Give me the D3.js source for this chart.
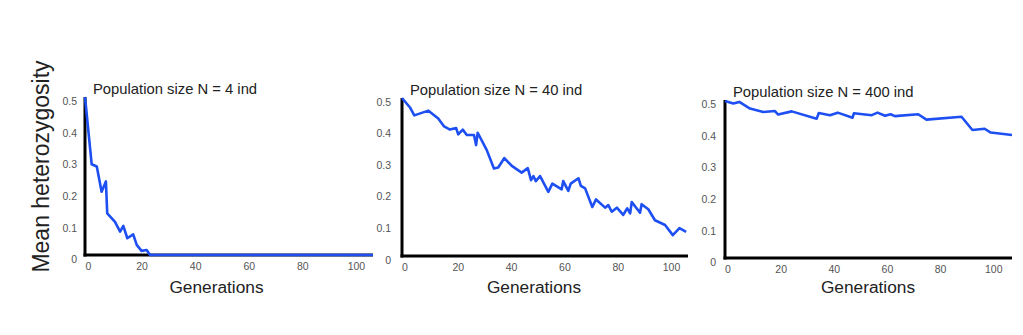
<!DOCTYPE html>
<html>
<head>
<meta charset="utf-8">
<script src="https://cdn.jsdelivr.net/npm/d3@7"></script>
<style>
  html, body { margin: 0; padding: 0; background: #fff; }
  svg { display: block; font-family: "Liberation Sans", Arial, Helvetica, sans-serif; }
</style>
</head>
<body>
<svg id="chart" width="1023" height="335"></svg>
<script>
// ---- Data ----
const xTicks = [0, 20, 40, 60, 80, 100];
const yTicks = [0, 0.1, 0.2, 0.3, 0.4, 0.5];
const yTickLabels = ["0", "0.1", "0.2", "0.3", "0.4", "0.5"];
const titles = ["Population size N = 4 ind", "Population size N = 40 ind", "Population size N = 400 ind"];
const xLabel = "Generations";
const yLabel = "Mean heterozygosity";

const gen4 = [0, 2.5, 4.4, 6.2, 7.8, 8.3, 11.2, 13.1, 14.3, 15.8, 18.0, 19.3, 21.1, 23.0, 24.3, 107.5];
const het4 = [0.5, 0.287, 0.28, 0.2, 0.233, 0.132, 0.105, 0.074, 0.092, 0.053, 0.065, 0.032, 0.013, 0.016, 0, 0];

const gen40 = [0, 3, 4.6, 9.9, 13.6, 15.8, 18, 20.3, 21.1, 22.8, 24.3, 27, 27.8, 28.4, 31.8, 34.5, 36.1, 38.4,
  41.2, 44.9, 47.2, 48.4, 49.3, 50.2, 51.8, 54.9, 56.4, 59.9, 60.5, 62.4, 63.3, 66.2, 67.1, 68.7, 71.4, 72.8,
  76.2, 77.4, 78.7, 80.6, 83.0, 84.5, 85.6, 86.2, 89.3, 89.9, 92.4, 94.9, 98.7, 101.6, 104.1, 106.6];
const het40 = [0.5, 0.47, 0.445, 0.46, 0.435, 0.41, 0.40, 0.405, 0.385, 0.40, 0.383, 0.383, 0.351, 0.39, 0.335, 0.277, 0.28, 0.31,
  0.285, 0.264, 0.278, 0.24, 0.253, 0.237, 0.253, 0.203, 0.229, 0.211, 0.237, 0.206, 0.229, 0.246, 0.222, 0.214, 0.155, 0.179,
  0.153, 0.161, 0.140, 0.153, 0.130, 0.151, 0.135, 0.171, 0.137, 0.164, 0.148, 0.113, 0.098, 0.066, 0.088, 0.076];

const gen400 = [0, 3.1, 5.4, 9.4, 14.4, 18.8, 20.0, 25.1, 34.5, 35.3, 39.5, 42.4, 48, 48.5, 55.2, 57.4, 60.2, 62.3,
  63.9, 72.7, 75.8, 89, 93.1, 97.7, 100, 108];
const het400 = [0.497, 0.489, 0.494, 0.473, 0.462, 0.465, 0.454, 0.464, 0.441, 0.459, 0.452, 0.46, 0.444, 0.458, 0.452, 0.46, 0.45, 0.455,
  0.449, 0.455, 0.438, 0.447, 0.405, 0.409, 0.397, 0.389];

// ---- Layout ----
const panels = [
  { gens: gen4, hets: het4, title: titles[0], left: 85, right: 373, top: 97, bottom: 255, xmax: 107.5,
    titleX: 93, titleY: 93.5, xlabX: 216.5, yTickDx: 8, yTickDy: 4.5, xTickDx: 3.5, xTickY: 270 },
  { gens: gen40, hets: het40, title: titles[1], left: 402, right: 688, top: 98, bottom: 256, xmax: 107.3,
    titleX: 410, titleY: 95, xlabX: 534, yTickDx: 11, yTickDy: 4, xTickDx: 3, xTickY: 270.5 },
  { gens: gen400, hets: het400, title: titles[2], left: 725, right: 1012, top: 100, bottom: 258, xmax: 108,
    titleX: 733, titleY: 96.5, xlabX: 868, yTickDx: 9, yTickDy: 4.5, xTickDx: 3, xTickY: 273 }
];

const svg = d3.select("#chart");
svg.append("rect").attr("width", 1023).attr("height", 335).attr("fill", "#fff");

panels.forEach(p => {
  const x = d3.scaleLinear().domain([0, p.xmax]).range([p.left, p.right]);
  const y = d3.scaleLinear().domain([0, 0.5]).range([p.bottom, p.top]);
  const g = svg.append("g");

  // y tick labels
  g.selectAll("text.yt").data(yTicks).enter().append("text")
    .attr("class", "yt")
    .attr("x", p.left - p.yTickDx)
    .attr("y", (d) => y(d) + p.yTickDy)
    .attr("dy", "0.35em")
    .attr("text-anchor", "end")
    .attr("font-size", 10.5)
    .attr("fill", "#555")
    .text((d, i) => yTickLabels[i]);

  // x tick labels
  g.selectAll("text.xt").data(xTicks).enter().append("text")
    .attr("class", "xt")
    .attr("x", d => x(d) + p.xTickDx)
    .attr("y", p.xTickY)
    .attr("text-anchor", "middle")
    .attr("font-size", 10.5)
    .attr("fill", "#555")
    .text(d => d);

  // axes lines
  g.append("line")
    .attr("x1", x(0)).attr("x2", x(0))
    .attr("y1", y(0.5)).attr("y2", y(0) + 1.5)
    .attr("stroke", "#000").attr("stroke-width", 3);
  g.append("line")
    .attr("x1", x(0) - 1.5).attr("x2", x(p.xmax))
    .attr("y1", y(0)).attr("y2", y(0))
    .attr("stroke", "#000").attr("stroke-width", 3);

  // data line
  const line = d3.line().x((d, i) => x(p.gens[i])).y(d => y(d));
  g.append("path")
    .datum(p.hets)
    .attr("d", line)
    .attr("fill", "none")
    .attr("stroke", "#1d4ff2")
    .attr("stroke-width", 2.6)
    .attr("stroke-linejoin", "round");

  // title
  g.append("text")
    .attr("x", p.titleX).attr("y", p.titleY)
    .attr("font-size", 14.8)
    .attr("fill", "#222")
    .text(p.title);

  // x label
  g.append("text")
    .attr("x", p.xlabX).attr("y", 293)
    .attr("text-anchor", "middle")
    .attr("font-size", 17.3)
    .attr("fill", "#222")
    .text(xLabel);
});

// y axis label
svg.append("text")
  .attr("transform", "translate(49,166.5) rotate(-90)")
  .attr("text-anchor", "middle")
  .attr("font-size", 23)
  .attr("fill", "#222")
  .text(yLabel);
</script>
</body>
</html>
